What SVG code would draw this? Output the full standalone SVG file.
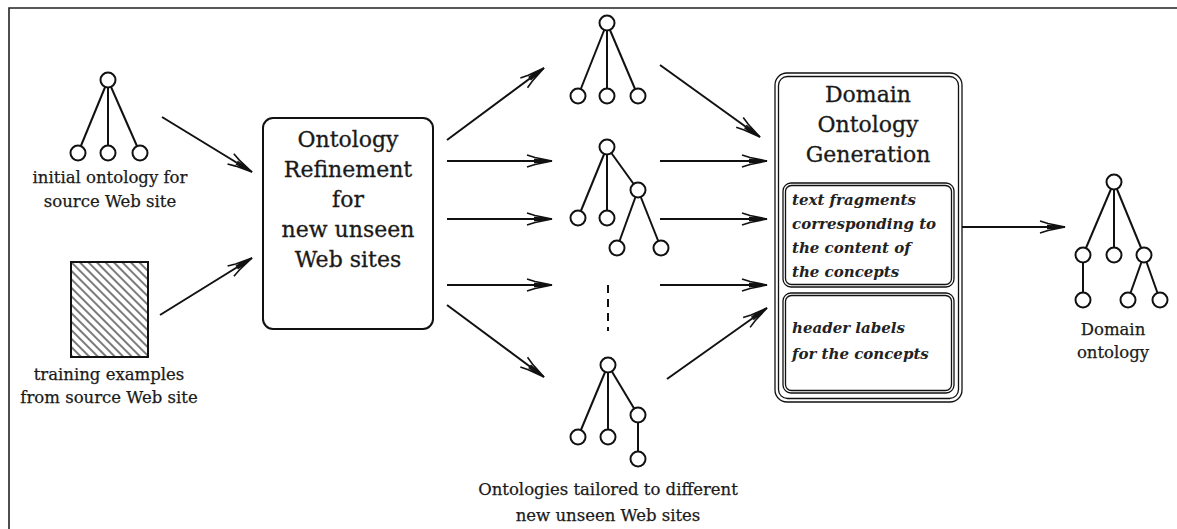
<svg xmlns="http://www.w3.org/2000/svg" width="1177" height="529" viewBox="0 0 1177 529">
  <style>
    .edge { stroke: #111; stroke-width: 2; fill: none; }
    .frame { stroke: #222; stroke-width: 1.6; fill: none; }
    .box { stroke: #111; stroke-width: 2; fill: #fff; }
    .dbl { stroke: #111; stroke-width: 1.3; fill: none; }
    .node { stroke: #111; stroke-width: 2; fill: #fff; }
    .branch { stroke: #111; stroke-width: 2; }
    .label { font-family: "DejaVu Serif", "Liberation Serif", serif; font-size: 16.5px; fill: #1a1a1a; stroke: #1a1a1a; stroke-width: 0.25; text-anchor: middle; }
    .title { font-family: "DejaVu Serif", "Liberation Serif", serif; font-size: 22px; fill: #1a1a1a; stroke: #1a1a1a; stroke-width: 0.3; text-anchor: middle; }
    .note { font-family: "DejaVu Serif", "Liberation Serif", serif; font-size: 15px; font-style: italic; font-weight: bold; fill: #222; }
  </style>
  <defs>
    <marker id="head" markerUnits="userSpaceOnUse" viewBox="-27 -8 29 16" refX="0" refY="0" markerWidth="29" markerHeight="16" orient="auto" overflow="visible">
      <path d="M-25,-6 L-17,-3.5 L0,0 L-17,3.5 L-25,6 M-18,-1.5 L0,0 L-18,1.5" fill="none" stroke="#111" stroke-width="1.6" stroke-linejoin="miter"/>
      <path d="M-12,-1.6 L0,0 L-12,1.6 Z" fill="#111"/>
    </marker>
    <pattern id="hatch" patternUnits="userSpaceOnUse" width="6" height="6" patternTransform="rotate(-45)">
      <line x1="3" y1="-1" x2="3" y2="7" stroke="#333" stroke-width="1.3"/>
    </pattern>
  </defs>

  <rect width="1177" height="529" fill="#fff"/>
  <!-- page frame: top and left rules only -->
  <path class="frame" d="M9,529 L9,8 L1177,8"/>

  <!-- connectors -->
  <g id="connectors">
    <line class="edge" x1="162" y1="117" x2="252" y2="172" marker-end="url(#head)"/>
    <line class="edge" x1="160" y1="315" x2="252" y2="258" marker-end="url(#head)"/>

    <line class="edge" x1="447" y1="140" x2="544" y2="68" marker-end="url(#head)"/>
    <line class="edge" x1="447" y1="161" x2="552" y2="161" marker-end="url(#head)"/>
    <line class="edge" x1="447" y1="219" x2="552" y2="219" marker-end="url(#head)"/>
    <line class="edge" x1="447" y1="285" x2="552" y2="285" marker-end="url(#head)"/>
    <line class="edge" x1="447" y1="305" x2="544" y2="377" marker-end="url(#head)"/>

    <line class="edge" x1="660" y1="65" x2="760" y2="137" marker-end="url(#head)"/>
    <line class="edge" x1="660" y1="161" x2="767" y2="161" marker-end="url(#head)"/>
    <line class="edge" x1="660" y1="219" x2="767" y2="219" marker-end="url(#head)"/>
    <line class="edge" x1="660" y1="285" x2="767" y2="285" marker-end="url(#head)"/>
    <line class="edge" x1="667" y1="379" x2="767" y2="308" marker-end="url(#head)"/>

    <line class="edge" x1="962" y1="227" x2="1065" y2="227" marker-end="url(#head)"/>
  </g>

  <!-- initial ontology -->
  <g id="initial-ontology">
    <line class="branch" x1="108" y1="80" x2="78" y2="153"/>
    <line class="branch" x1="108" y1="80" x2="108" y2="153"/>
    <line class="branch" x1="108" y1="80" x2="140" y2="153"/>
    <circle class="node" cx="108" cy="80" r="7.5"/>
    <circle class="node" cx="78" cy="153" r="7.5"/>
    <circle class="node" cx="108" cy="153" r="7.5"/>
    <circle class="node" cx="140" cy="153" r="7.5"/>
    <text class="label" x="110" y="183">initial ontology for</text>
    <text class="label" x="110" y="207">source Web site</text>
  </g>

  <!-- training examples -->
  <g id="training-examples">
    <rect x="71" y="262" width="77" height="95" fill="url(#hatch)" stroke="#111" stroke-width="2"/>
    <text class="label" x="109" y="380">training examples</text>
    <text class="label" x="109" y="403">from source Web site</text>
  </g>

  <!-- ontology refinement -->
  <g id="ontology-refinement">
    <rect class="box" x="263" y="118" width="170" height="211" rx="10"/>
    <text class="title" x="348" y="147">Ontology</text>
    <text class="title" x="348" y="177">Refinement</text>
    <text class="title" x="348" y="207">for</text>
    <text class="title" x="348" y="237">new unseen</text>
    <text class="title" x="348" y="267">Web sites</text>
  </g>

  <!-- tailored ontology 1 -->
  <g id="tailored-ontology-1">
    <line class="branch" x1="607" y1="23" x2="578" y2="96"/>
    <line class="branch" x1="607" y1="23" x2="607" y2="96"/>
    <line class="branch" x1="607" y1="23" x2="638" y2="96"/>
    <circle class="node" cx="607" cy="23" r="7.5"/>
    <circle class="node" cx="578" cy="96" r="7.5"/>
    <circle class="node" cx="607" cy="96" r="7.5"/>
    <circle class="node" cx="638" cy="96" r="7.5"/>
  </g>

  <!-- tailored ontology 2 -->
  <g id="tailored-ontology-2">
    <line class="branch" x1="607" y1="147" x2="578" y2="218"/>
    <line class="branch" x1="607" y1="147" x2="607" y2="218"/>
    <line class="branch" x1="607" y1="147" x2="638" y2="190"/>
    <line class="branch" x1="638" y1="190" x2="617" y2="248"/>
    <line class="branch" x1="638" y1="190" x2="661" y2="248"/>
    <circle class="node" cx="607" cy="147" r="7.5"/>
    <circle class="node" cx="578" cy="218" r="7.5"/>
    <circle class="node" cx="607" cy="218" r="7.5"/>
    <circle class="node" cx="638" cy="190" r="7.5"/>
    <circle class="node" cx="617" cy="248" r="7.5"/>
    <circle class="node" cx="661" cy="248" r="7.5"/>
  </g>

  <!-- ellipsis -->
  <line id="ellipsis" x1="608" y1="285" x2="608" y2="331" stroke="#111" stroke-width="2" stroke-dasharray="8 6"/>

  <!-- tailored ontology n -->
  <g id="tailored-ontology-n">
    <line class="branch" x1="608" y1="365" x2="578" y2="437"/>
    <line class="branch" x1="608" y1="365" x2="608" y2="437"/>
    <line class="branch" x1="608" y1="365" x2="638" y2="415"/>
    <line class="branch" x1="638" y1="415" x2="638" y2="459"/>
    <circle class="node" cx="608" cy="365" r="7.5"/>
    <circle class="node" cx="578" cy="437" r="7.5"/>
    <circle class="node" cx="608" cy="437" r="7.5"/>
    <circle class="node" cx="638" cy="415" r="7.5"/>
    <circle class="node" cx="638" cy="459" r="7.5"/>
    <text class="label" x="608" y="495">Ontologies tailored to different</text>
    <text class="label" x="608" y="521">new unseen Web sites</text>
  </g>

  <!-- domain ontology generation -->
  <g id="domain-ontology-generation">
    <rect x="775" y="73" width="187" height="329" rx="12" fill="#fff" class="dbl"/>
    <rect x="778.5" y="76.5" width="180" height="322" rx="9" class="dbl"/>
    <text class="title" x="868" y="102">Domain</text>
    <text class="title" x="868" y="132">Ontology</text>
    <text class="title" x="868" y="162">Generation</text>

    <rect x="783" y="183" width="171" height="104" rx="8" class="dbl"/>
    <rect x="785.5" y="185.5" width="166" height="99" rx="6" class="dbl"/>
    <text class="note" x="792" y="205">text fragments</text>
    <text class="note" x="792" y="229">corresponding to</text>
    <text class="note" x="792" y="253">the content of</text>
    <text class="note" x="792" y="277">the concepts</text>

    <rect x="783" y="293" width="171" height="100" rx="8" class="dbl"/>
    <rect x="785.5" y="295.5" width="166" height="95" rx="6" class="dbl"/>
    <text class="note" x="792" y="333">header labels</text>
    <text class="note" x="792" y="359">for the concepts</text>
  </g>

  <!-- domain ontology -->
  <g id="domain-ontology">
    <line class="branch" x1="1114" y1="182" x2="1083" y2="255"/>
    <line class="branch" x1="1114" y1="182" x2="1114" y2="255"/>
    <line class="branch" x1="1114" y1="182" x2="1144" y2="255"/>
    <line class="branch" x1="1083" y1="255" x2="1083" y2="300"/>
    <line class="branch" x1="1144" y1="255" x2="1128" y2="300"/>
    <line class="branch" x1="1144" y1="255" x2="1160" y2="300"/>
    <circle class="node" cx="1114" cy="182" r="7.5"/>
    <circle class="node" cx="1083" cy="255" r="7.5"/>
    <circle class="node" cx="1114" cy="255" r="7.5"/>
    <circle class="node" cx="1144" cy="255" r="7.5"/>
    <circle class="node" cx="1083" cy="300" r="7.5"/>
    <circle class="node" cx="1128" cy="300" r="7.5"/>
    <circle class="node" cx="1160" cy="300" r="7.5"/>
    <text class="label" x="1113" y="335">Domain</text>
    <text class="label" x="1113" y="358">ontology</text>
  </g>
</svg>
